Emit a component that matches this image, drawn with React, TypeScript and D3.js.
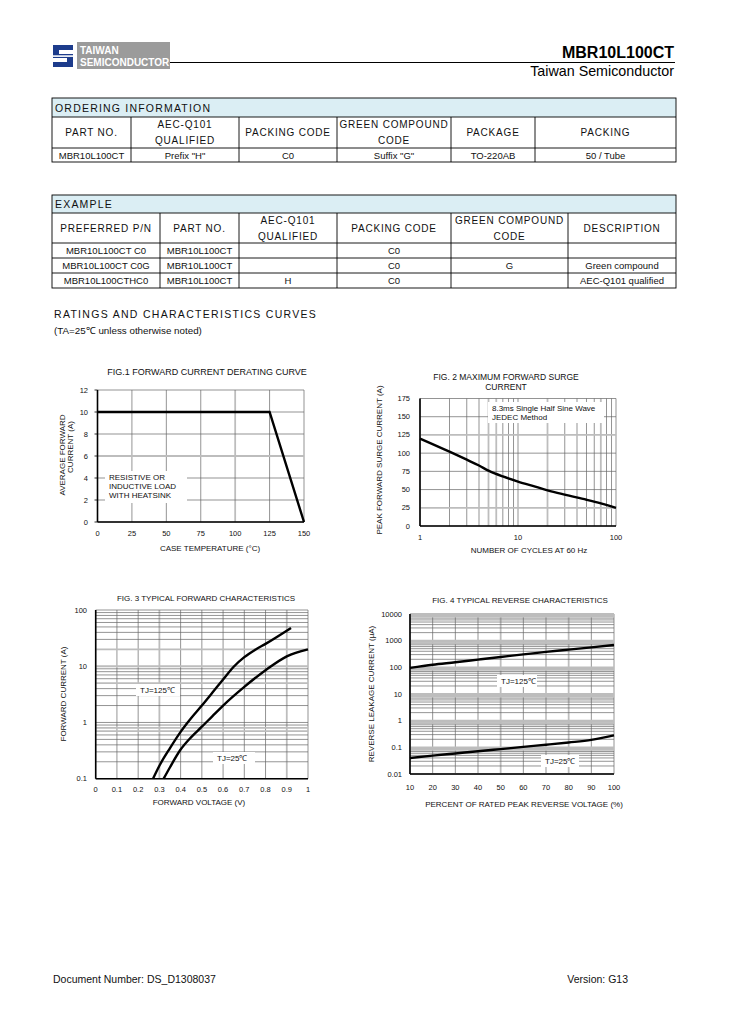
import React from "react";
import * as d3 from "d3";

const FONT = "'Liberation Sans', Arial, Helvetica, sans-serif";

// ---- table data ----
const orderTitle = "ORDERING INFORMATION";
const orderHeaders = ["PART NO.", "AEC-Q101|QUALIFIED", "PACKING CODE", "GREEN COMPOUND|CODE", "PACKAGE", "PACKING"];
const orderRows = [["MBR10L100CT", 'Prefix "H"', "C0", 'Suffix "G"', "TO-220AB", "50 / Tube"]];

const exampleTitle = "EXAMPLE";
const exampleHeaders = ["PREFERRED P/N", "PART NO.", "AEC-Q101|QUALIFIED", "PACKING CODE", "GREEN COMPOUND|CODE", "DESCRIPTION"];
const exampleRows = [
  ["MBR10L100CT C0", "MBR10L100CT", "", "C0", "", ""],
  ["MBR10L100CT C0G", "MBR10L100CT", "", "C0", "G", "Green compound"],
  ["MBR10L100CTHC0", "MBR10L100CT", "H", "C0", "", "AEC-Q101 qualified"],
];

// ---- fig 1: derating ----
const fig1Temp = [0, 125, 150];
const fig1Current = [10, 10, 0];
const fig1XTicks = [0, 25, 50, 75, 100, 125, 150];
const fig1YTicks = [0, 2, 4, 6, 8, 10, 12];

// ---- fig 2: surge ----
const fig2Cycles = [1, 2, 3, 4, 5, 7, 10, 15, 20, 30, 50, 70, 100];
const fig2Surge = [120, 102, 91, 83, 76, 68, 61, 54, 49, 43, 36, 31, 25];
const fig2XTicks = [1, 10, 100];
const fig2YTicks = [0, 25, 50, 75, 100, 125, 150, 175];

// ---- fig 3: forward ----
const fig3V125 = [0.27, 0.3, 0.35, 0.4, 0.45, 0.5, 0.55, 0.6, 0.65, 0.7, 0.75, 0.8, 0.92];
const fig3I125 = [0.1, 0.17, 0.35, 0.68, 1.2, 2.0, 3.4, 5.8, 9.8, 14.5, 19.5, 25, 48];
const fig3V25 = [0.32, 0.35, 0.4, 0.45, 0.5, 0.55, 0.6, 0.7, 0.8, 0.9, 1.0];
const fig3I25 = [0.1, 0.16, 0.33, 0.55, 0.84, 1.3, 2.0, 4.3, 8.5, 15, 20];
const fig3XTicks = [0, 0.1, 0.2, 0.3, 0.4, 0.5, 0.6, 0.7, 0.8, 0.9, 1];
const fig3YTicks = [0.1, 1, 10, 100];

// ---- fig 4: reverse ----
const fig4Pct = [10, 20, 30, 40, 50, 60, 70, 80, 90, 100];
const fig4I125 = [95, 125, 155, 195, 245, 305, 380, 460, 560, 690];
const fig4I25 = [0.04, 0.049, 0.059, 0.071, 0.086, 0.104, 0.125, 0.152, 0.19, 0.28];
const fig4XTicks = [10, 20, 30, 40, 50, 60, 70, 80, 90, 100];
const fig4YTicks = [0.01, 0.1, 1, 10, 100, 1000, 10000];

const DARK = "#666";
const LIGHT = "#bdbdbd";

function logMinors(lo, hi) {
  // 1..9 x 10^d lines for a log axis
  const out = [];
  for (let d = Math.round(Math.log10(lo)); d < Math.round(Math.log10(hi)); d++) {
    for (let m = 1; m < 10; m++) out.push(+(m * Math.pow(10, d)).toPrecision(3));
  }
  out.push(hi);
  return out;
}

function Table({ edges, y0, titleH, headH, rowH, title, headers, rows }) {
  const x0 = edges[0];
  const x1 = edges[edges.length - 1];
  const total = titleH + headH + rowH * rows.length;
  return (
    <g fontFamily={FONT} fill="#111">
      <rect x={x0} y={y0} width={x1 - x0} height={titleH} fill="#dbeef4" />
      <text x={x0 + 3} y={y0 + titleH - 5} fontSize={10.5} letterSpacing={1.2}>{title}</text>
      {headers.map((h, i) => {
        const cx = (edges[i] + edges[i + 1]) / 2;
        const lines = h.split("|");
        const cy = y0 + titleH + headH / 2;
        return lines.map((l, j) => (
          <text key={i + "-" + j} x={cx} y={cy + 3.5 + (j - (lines.length - 1) / 2) * 16}
            textAnchor="middle" fontSize={10} letterSpacing={0.8}>{l}</text>
        ));
      })}
      {rows.map((r, ri) =>
        r.map((c, ci) => (
          <text key={ri + "-" + ci} x={(edges[ci] + edges[ci + 1]) / 2}
            y={y0 + titleH + headH + rowH * ri + rowH / 2 + 3.5}
            textAnchor="middle" fontSize={9.5}>{c}</text>
        ))
      )}
      <g stroke="#000" strokeWidth={0.9} fill="none">
        <rect x={x0} y={y0} width={x1 - x0} height={total} />
        <line x1={x0} x2={x1} y1={y0 + titleH} y2={y0 + titleH} />
        {rows.map((_, ri) => (
          <line key={ri} x1={x0} x2={x1} y1={y0 + titleH + headH + rowH * ri} y2={y0 + titleH + headH + rowH * ri} />
        ))}
        {edges.slice(1, -1).map((e, i) => (
          <line key={"v" + i} x1={e} x2={e} y1={y0 + titleH} y2={y0 + total} />
        ))}
      </g>
    </g>
  );
}

function Grid({ xs, ys, xScale, yScale, lightX = [], lightY = [] }) {
  const [xa, xb] = xScale.range();
  const [ya, yb] = yScale.range();
  const isIn = (arr, v) => arr.some((a) => Math.abs(a - v) < 1e-9 * Math.max(1, Math.abs(v)));
  return (
    <g fill="none">
      {xs.map((v, i) => {
        const lt = isIn(lightX, v);
        return <line key={"x" + i} x1={xScale(v)} x2={xScale(v)} y1={ya} y2={yb}
          stroke={lt ? LIGHT : DARK} strokeWidth={lt ? 1.8 : 0.7} />;
      })}
      {ys.map((v, i) => {
        const lt = isIn(lightY, v);
        return <line key={"y" + i} x1={xa} x2={xb} y1={yScale(v)} y2={yScale(v)}
          stroke={lt ? LIGHT : DARK} strokeWidth={lt ? 1.8 : 0.7} />;
      })}
    </g>
  );
}

function Frame({ xScale, yScale }) {
  const [xa, xb] = xScale.range();
  const [ya, yb] = yScale.range();
  return (
    <g stroke="#000" fill="none">
      <line x1={xa} x2={xa} y1={ya} y2={yb} strokeWidth={1.6} />
      <line x1={xa} x2={xb} y1={ya} y2={ya} strokeWidth={1.6} />
    </g>
  );
}

function LabelBox({ x, y, w, h, lines, fs = 8, lh = 9 }) {
  return (
    <g fontFamily={FONT}>
      <rect x={x} y={y} width={w} height={h} fill="#fff" />
      {lines.map((l, i) => (
        <text key={i} x={x + 4} y={y + 9 + i * lh} fontSize={fs} fill="#111">{l}</text>
      ))}
    </g>
  );
}

function YLabel({ x, y, text }) {
  return (
    <text transform={`translate(${x},${y}) rotate(-90)`} textAnchor="middle" fontSize={8}
      fontFamily={FONT} fill="#111">{text}</text>
  );
}

function Fig1() {
  const x = d3.scaleLinear().domain([0, 150]).range([97.5, 304]);
  const y = d3.scaleLinear().domain([0, 12]).range([522, 390]);
  const line = d3.line().x((d) => x(d[0])).y((d) => y(d[1]));
  const pts = fig1Temp.map((t, i) => [t, fig1Current[i]]);
  return (
    <g fontFamily={FONT} fill="#111">
      <text x={207} y={375} textAnchor="middle" fontSize={9}>FIG.1 FORWARD CURRENT DERATING CURVE</text>
      <Grid xs={fig1XTicks} ys={fig1YTicks} xScale={x} yScale={y} lightX={[100]} lightY={[6]} />
      <LabelBox x={105} y={471} w={82} h={32}
        lines={["RESISTIVE OR", "INDUCTIVE  LOAD", "WITH HEATSINK"]} />
      <Frame xScale={x} yScale={y} />
      {fig1YTicks.map((t) => (
        <g key={t}>
          <line x1={x(0) - 3} x2={x(0)} y1={y(t)} y2={y(t)} stroke="#000" strokeWidth={0.8} />
          <text x={88} y={y(t) + 2.5} textAnchor="end" fontSize={7.5}>{t}</text>
        </g>
      ))}
      {fig1XTicks.map((t) => (
        <text key={t} x={x(t)} y={536} textAnchor="middle" fontSize={7.5}>{t}</text>
      ))}
      <text x={210} y={551} textAnchor="middle" fontSize={8}>CASE TEMPERATURE (°C)</text>
      <YLabel x={65} y={455} text="AVERAGE FORWARD" />
      <YLabel x={73} y={447} text="CURRENT (A)" />
      <path d={line(pts)} fill="none" stroke="#000" strokeWidth={2.4} />
    </g>
  );
}

function Fig2() {
  const x = d3.scaleLog().domain([1, 100]).range([420, 616]);
  const y = d3.scaleLinear().domain([0, 175]).range([526, 398.5]);
  const line = d3.line().x((d) => x(d[0])).y((d) => y(d[1])).curve(d3.curveMonotoneX);
  const pts = fig2Cycles.map((c, i) => [c, fig2Surge[i]]);
  return (
    <g fontFamily={FONT} fill="#111">
      <text x={506} y={380} textAnchor="middle" fontSize={8.5}>FIG. 2 MAXIMUM  FORWARD SURGE</text>
      <text x={506} y={390} textAnchor="middle" fontSize={8.5}>CURRENT</text>
      <Grid xs={logMinors(1, 100)} ys={fig2YTicks} xScale={x} yScale={y}
        lightX={[5, 6, 20, 70]} lightY={[125, 25]} />
      <LabelBox x={488} y={402} w={116} h={21} lines={["8.3ms Single Half Sine Wave", "JEDEC Method"]}
        fs={8} lh={8.5} />
      <Frame xScale={x} yScale={y} />
      {fig2YTicks.map((t) => (
        <text key={t} x={410} y={y(t) + 2.5} textAnchor="end" fontSize={7.5}>{t}</text>
      ))}
      {fig2XTicks.map((t) => (
        <text key={t} x={x(t)} y={540} textAnchor="middle" fontSize={7.5}>{t}</text>
      ))}
      <text x={529} y={553} textAnchor="middle" fontSize={8}>NUMBER OF CYCLES AT 60 Hz</text>
      <YLabel x={382} y={460} text="PEAK FORWARD SURGE  CURRENT (A)" />
      <path d={line(pts)} fill="none" stroke="#000" strokeWidth={2.4} />
    </g>
  );
}

function Fig3() {
  const x = d3.scaleLinear().domain([0, 1]).range([95.7, 308]);
  const y = d3.scaleLog().domain([0.1, 100]).range([778.7, 610]);
  const line = d3.line().x((d) => x(d[0])).y((d) => y(d[1])).curve(d3.curveMonotoneX);
  const p125 = fig3V125.map((v, i) => [v, fig3I125[i]]);
  const p25 = fig3V25.map((v, i) => [v, fig3I25[i]]);
  return (
    <g fontFamily={FONT} fill="#111">
      <text x={206} y={601} textAnchor="middle" fontSize={8}>FIG. 3 TYPICAL FORWARD CHARACTERISTICS</text>
      <Grid xs={fig3XTicks} ys={logMinors(0.1, 100)} xScale={x} yScale={y}
        lightX={[0.3, 0.9]} lightY={[20, 10, 5, 0.8, 0.7]} />
      <LabelBox x={136} y={684} w={44} h={12} lines={["TJ=125\u2103"]} />
      <LabelBox x={213} y={752} w={42} h={12} lines={["TJ=25\u2103"]} />
      <Frame xScale={x} yScale={y} />
      {fig3YTicks.map((t) => (
        <text key={t} x={87} y={y(t) + 2.5} textAnchor="end" fontSize={7.5}>{t}</text>
      ))}
      {fig3XTicks.map((t) => (
        <text key={t} x={x(t)} y={792} textAnchor="middle" fontSize={7.5}>{t}</text>
      ))}
      <text x={199} y={805} textAnchor="middle" fontSize={8}>FORWARD VOLTAGE (V)</text>
      <YLabel x={66} y={694} text="FORWARD  CURRENT (A)" />
      <path d={line(p125)} fill="none" stroke="#000" strokeWidth={2.4} />
      <path d={line(p25)} fill="none" stroke="#000" strokeWidth={2.4} />
    </g>
  );
}

function Fig4() {
  const x = d3.scaleLinear().domain([10, 100]).range([410, 614]);
  const y = d3.scaleLog().domain([0.01, 10000]).range([774, 614]);
  const line = d3.line().x((d) => x(d[0])).y((d) => y(d[1])).curve(d3.curveMonotoneX);
  const p125 = fig4Pct.map((v, i) => [v, fig4I125[i]]);
  const p25 = fig4Pct.map((v, i) => [v, fig4I25[i]]);
  const lightY = fig4YTicks.flatMap((d) => [d, d * 0.9, d * 0.8]);
  return (
    <g fontFamily={FONT} fill="#111">
      <text x={520} y={603} textAnchor="middle" fontSize={8}>FIG. 4 TYPICAL REVERSE CHARACTERISTICS</text>
      <Grid xs={fig4XTicks} ys={logMinors(0.01, 10000)} xScale={x} yScale={y}
        lightX={[50, 80]} lightY={lightY} />
      <LabelBox x={497} y={675} w={40} h={12} lines={["TJ=125\u2103"]} />
      <LabelBox x={541} y={755} w={38} h={12} lines={["TJ=25\u2103"]} />
      <Frame xScale={x} yScale={y} />
      {fig4YTicks.map((t) => (
        <text key={t} x={402} y={y(t) + 2.5} textAnchor="end" fontSize={7.5}>{t}</text>
      ))}
      {fig4XTicks.map((t) => (
        <text key={t} x={x(t)} y={790} textAnchor="middle" fontSize={7.5}>{t}</text>
      ))}
      <text x={524} y={807} textAnchor="middle" fontSize={8}>PERCENT OF RATED PEAK REVERSE VOLTAGE (%)</text>
      <YLabel x={374} y={694} text={"REVERSE LEAKAGE CURRENT (\u03bcA)"} />
      <path d={line(p125)} fill="none" stroke="#000" strokeWidth={2.4} />
      <path d={line(p25)} fill="none" stroke="#000" strokeWidth={2.4} />
    </g>
  );
}

function Header() {
  return (
    <g fontFamily={FONT}>
      {/* logo mark */}
      <rect x={50} y={42} width={27} height={27} fill="#fff" />
      <path d="M53 45 h20 v5 h-14 v4 h14 v13 h-20 v-5 h14 v-4 h-14 z" fill="#1d3c8c" />
      <rect x={53} y={55.3} width={20} height={1.6} fill="#fff" />
      <rect x={77} y={42} width={93} height={27} fill="#9b9b9b" />
      <text x={80} y={54} fontSize={10} fontWeight="bold" fill="#fff">TAIWAN</text>
      <text x={80} y={66} fontSize={10} fontWeight="bold" fill="#fff">SEMICONDUCTOR</text>
      <line x1={170} x2={675} y1={62.5} y2={62.5} stroke="#000" strokeWidth={1} />
      <text x={674} y={58} textAnchor="end" fontSize={16} fontWeight="bold" fill="#000">MBR10L100CT</text>
      <text x={674} y={76} textAnchor="end" fontSize={14.3} fill="#000">Taiwan Semiconductor</text>
    </g>
  );
}

export default function App() {
  return (
    <div style={{ position: "absolute", left: 0, top: 0 }}>
      <svg width={729} height={1032} style={{ display: "block", background: "#fff" }}>
        <Header />
        <Table edges={[52, 131, 239, 337, 451, 535, 676]} y0={98} titleH={19} headH={31} rowH={14}
          title={orderTitle} headers={orderHeaders} rows={orderRows} />
        <Table edges={[52, 160, 239, 337, 451, 568, 676]} y0={195} titleH={18} headH={30} rowH={15}
          title={exampleTitle} headers={exampleHeaders} rows={exampleRows} />
        <g fontFamily={FONT} fill="#111">
          <text x={54} y={318} fontSize={10.5} letterSpacing={1.3}>RATINGS AND CHARACTERISTICS CURVES</text>
          <text x={54} y={334} fontSize={9.8}>(TA=25{"\u2103"} unless otherwise noted)</text>
        </g>
        <Fig1 />
        <Fig2 />
        <Fig3 />
        <Fig4 />
        <g fontFamily={FONT} fill="#111" fontSize={10.5}>
          <text x={53} y={983}>Document Number: DS_D1308037</text>
          <text x={628} y={983} textAnchor="end">Version: G13</text>
        </g>
      </svg>
    </div>
  );
}
